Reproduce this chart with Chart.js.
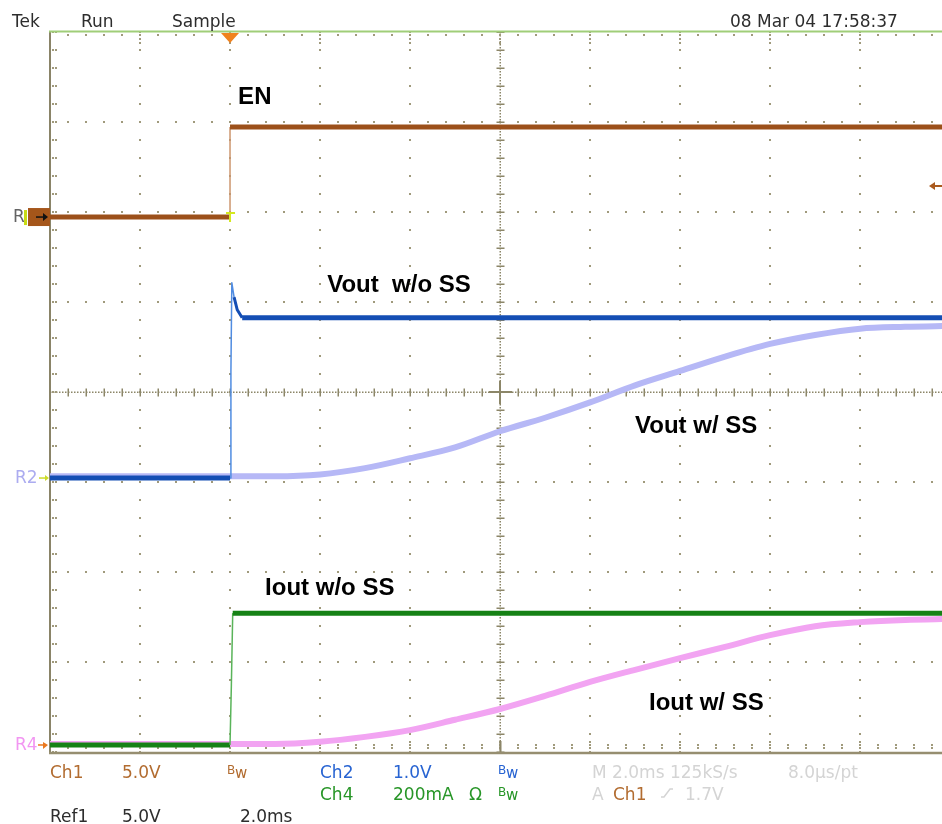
<!DOCTYPE html>
<html>
<head>
<meta charset="utf-8">
<title>Soft-start comparison</title>
<script src="https://cdn.jsdelivr.net/npm/chart.js@4/dist/chart.umd.min.js"></script>
<style>
  html, body { margin: 0; padding: 0; background: #ffffff; }
  canvas { display: block; }
</style>
</head>
<body>
<canvas id="scope" width="942" height="824"></canvas>
<script>
// ---- Captured traces (time in ms, 0 = trigger on EN rising edge) ----
const enTime = [-4, 0, 0, 15.82];
const enVolts = [0, 0, 5, 5];

const voutTime = [-4, 0, 0.02, 0.04, 0.09, 0.16, 0.27, 15.82];
const voutVolts = [0, 0, 1.18, 2.17, 2.01, 1.87, 1.78, 1.78];

const ioutTime = [-4, 0, 0.03, 0.06, 15.82];
const ioutMilliamps = [0, 0, 133, 293, 293];

// Reference waveforms stored with soft-start enabled
const ssTime = [-4, 0, 1, 2, 3, 4, 5, 6, 7, 8, 9, 10, 11, 12, 13, 14, 15, 16];
const voutSsVolts = [0.02, 0.02, 0.02, 0.04, 0.11, 0.22, 0.34, 0.52, 0.67, 0.84, 1.03, 1.19, 1.35, 1.49, 1.59, 1.66, 1.68, 1.69];
const ioutSsMilliamps = [2, 2, 2, 7, 18, 33, 56, 80, 109, 140, 167, 193, 218, 244, 264, 273, 278, 280];

// Graticule: 2 ms/div horizontally, 8 vertical divisions
const timeGridMs = [-4, -2, 0, 2, 4, 6, 8, 10, 12, 14];
const divGrid = [-4, -3, -2, -1, 0, 1, 2, 3, 4];
const timeMinorMs = 0.4;
const divMinor = 0.2;

// Channel scaling (units per division) and ground marker position (divisions)
const channels = {
  ch1: { perDiv: 5, ground: 1.944 },     // EN, 5.0 V/div
  ch2: { perDiv: 1, ground: -0.956 },    // Vout, 1.0 V/div
  ch4: { perDiv: 200, ground: -3.922 }   // Iout, 200 mA/div
};
const triggerLevelVolts = 1.7;

function toPoints(times, values, ch) {
  return times.map((t, i) => ({ x: t, y: ch.ground + values[i] / ch.perDiv }));
}

// Fast edges are drawn as a thin single line, flat parts as a noisy-looking band
function slope(ctx) {
  const dx = Math.abs(ctx.p1.x - ctx.p0.x);
  const dy = Math.abs(ctx.p1.y - ctx.p0.y);
  if (dy > 4 * dx + 2) return 'edge';
  if (dy > dx) return 'ramp';
  return 'flat';
}
function traceSegment(width, color, edgeColor) {
  return {
    borderWidth: ctx => {
      const s = slope(ctx);
      return s === 'edge' ? 1.5 : s === 'ramp' ? 3 : width;
    },
    borderColor: ctx => (slope(ctx) === 'edge' ? edgeColor : color)
  };
}

const colors = {
  ch1: 'rgb(156,80,26)', ch1Edge: 'rgb(205,150,110)', ch1Text: 'rgb(178,108,48)',
  ch2: 'rgb(20,78,180)', ch2Edge: 'rgb(80,140,225)', ch2Text: 'rgb(40,100,210)',
  ch4: 'rgb(22,130,22)', ch4Edge: 'rgb(90,180,90)', ch4Text: 'rgb(40,150,40)',
  ref2: 'rgb(182,184,246)', ref4: 'rgb(242,164,242)',
  grid: 'rgb(160,154,124)', gridStrong: 'rgb(140,134,104)',
  greyText: 'rgb(212,212,212)', darkText: 'rgb(45,45,45)'
};

const datasets = [
  {
    label: 'EN', order: 0,
    data: toPoints(enTime, enVolts, channels.ch1),
    borderColor: colors.ch1, borderWidth: 5,
    segment: traceSegment(5, colors.ch1, colors.ch1Edge)
  },
  {
    label: 'Vout w/o SS', order: 0,
    data: toPoints(voutTime, voutVolts, channels.ch2),
    borderColor: colors.ch2, borderWidth: 5,
    segment: traceSegment(5, colors.ch2, colors.ch2Edge)
  },
  {
    label: 'Iout w/o SS', order: 0,
    data: toPoints(ioutTime, ioutMilliamps, channels.ch4),
    borderColor: colors.ch4, borderWidth: 5,
    segment: traceSegment(5, colors.ch4, colors.ch4Edge)
  },
  {
    label: 'Vout w/ SS', order: 1,
    data: toPoints(ssTime, voutSsVolts, channels.ch2),
    borderColor: colors.ref2, borderWidth: 6,
    cubicInterpolationMode: 'monotone'
  },
  {
    label: 'Iout w/ SS', order: 1,
    data: toPoints(ssTime, ioutSsMilliamps, channels.ch4),
    borderColor: colors.ref4, borderWidth: 6,
    cubicInterpolationMode: 'monotone'
  }
];

// Trace annotations, anchored in time (ms) / division coordinates
const traceLabels = [
  { text: 'EN', t: 0.18, div: 3.2 },
  { text: 'Vout  w/o SS', t: 2.16, div: 1.111 },
  { text: 'Vout w/ SS', t: 9.0, div: -0.456 },
  { text: 'Iout w/o SS', t: 0.78, div: -2.256 },
  { text: 'Iout w/ SS', t: 9.31, div: -3.533 }
];

const FONT = '"DejaVu Sans", "Liberation Sans", sans-serif';

const paper = {
  id: 'paper',
  beforeDraw(chart) {
    const { ctx, width, height } = chart;
    ctx.save();
    ctx.fillStyle = '#ffffff';
    ctx.fillRect(0, 0, width, height);
    ctx.restore();
  }
};

const graticule = {
  id: 'graticule',
  beforeDatasetsDraw(chart) {
    const { ctx, chartArea: a, scales: { x, y } } = chart;
    const X = v => Math.round(x.getPixelForValue(v));
    const Y = v => Math.round(y.getPixelForValue(v));
    const dot = (px, py, s = 2) => ctx.fillRect(px - s / 2, py - s / 2, s, s);
    const tMin = x.min, tMax = x.max;
    const minorTimes = [];
    for (let i = 0; ; i++) { const t = tMin + i * timeMinorMs; if (t > tMax + 1e-6) break; minorTimes.push(t); }
    const minorDivs = [];
    for (let i = 0; ; i++) { const d = y.min + i * divMinor; if (d > y.max + 1e-6) break; minorDivs.push(d); }
    const centreT = 6, centreD = 0;

    ctx.save();
    ctx.fillStyle = colors.grid;
    // dotted major lines
    timeGridMs.forEach(t => {
      if (t === tMin || t === centreT) return;
      minorDivs.forEach(d => dot(X(t), Y(d)));
    });
    divGrid.forEach(d => {
      if (d === y.min || d === y.max || d === centreD) return;
      minorTimes.forEach(t => dot(X(t), Y(d)));
    });

    // centre cross lines with minor ticks
    const cx = X(centreT), cy = Y(centreD);
    ctx.fillStyle = colors.gridStrong;
    for (let px = a.left; px <= a.right; px += 3) ctx.fillRect(px, cy - 0.5, 1.5, 1.5);
    for (let py = a.top; py <= a.bottom; py += 3) ctx.fillRect(cx - 0.5, py, 1.5, 1.5);
    minorTimes.forEach(t => ctx.fillRect(X(t) - 0.5, cy - 3.5, 1.5, 8));
    minorDivs.forEach(d => ctx.fillRect(cx - 3.5, Y(d) - 0.5, 8, 1.5));
    ctx.fillRect(cx - 11, cy - 1, 23, 2);
    ctx.fillRect(cx - 1, cy - 11, 2, 23);

    // border ticks
    ctx.fillStyle = colors.grid;
    minorTimes.forEach(t => {
      const px = X(t);
      const major = timeGridMs.some(g => Math.abs(g - t) < 1e-6);
      dot(px, a.top + 3);
      dot(px, a.bottom - 4); dot(px, a.bottom - 7);
      if (major) { dot(px, a.top + 7); dot(px, a.top + 11); dot(px, a.bottom - 10); }
    });
    minorDivs.forEach(d => { const py = Y(d); dot(a.left + 3, py); dot(a.left + 6, py); });
    ctx.fillStyle = colors.gridStrong;
    ctx.fillRect(cx - 0.5, a.bottom - 11, 2, 11);

    // frame
    ctx.lineCap = 'butt';
    ctx.strokeStyle = 'rgb(138,132,104)';
    ctx.lineWidth = 2;
    ctx.beginPath(); ctx.moveTo(a.left, a.top - 1); ctx.lineTo(a.left, a.bottom + 2); ctx.stroke();
    ctx.strokeStyle = 'rgb(150,142,112)';
    ctx.lineWidth = 2.5;
    ctx.beginPath(); ctx.moveTo(a.left - 1, a.bottom + 1); ctx.lineTo(a.right, a.bottom + 1); ctx.stroke();
    ctx.strokeStyle = 'rgb(160,206,120)';
    ctx.lineWidth = 2;
    ctx.beginPath(); ctx.moveTo(a.left - 1, a.top - 0.5); ctx.lineTo(a.right, a.top - 0.5); ctx.stroke();
    ctx.restore();
  }
};

const scopeAnnotations = {
  id: 'scopeAnnotations',
  afterDatasetsDraw(chart) {
    const { ctx, chartArea: a, scales: { x, y } } = chart;
    const X = v => x.getPixelForValue(v);
    const Y = v => y.getPixelForValue(v);
    ctx.save();

    // trace labels
    ctx.font = 'bold 24px "Liberation Sans", Arial, sans-serif';
    ctx.fillStyle = '#000000';
    ctx.textBaseline = 'alphabetic';
    traceLabels.forEach(l => ctx.fillText(l.text, X(l.t), Y(l.div)));

    // trigger position marker (top) and trigger point
    const tx = X(0);
    ctx.fillStyle = 'rgb(240,130,30)';
    ctx.beginPath();
    ctx.moveTo(tx - 9, a.top + 1); ctx.lineTo(tx + 9, a.top + 1); ctx.lineTo(tx, a.top + 11);
    ctx.closePath(); ctx.fill();
    const g1 = Y(channels.ch1.ground);
    ctx.strokeStyle = 'rgb(212,232,30)';
    ctx.lineWidth = 2;
    ctx.beginPath();
    ctx.moveTo(tx - 4, g1 - 4); ctx.lineTo(tx + 5, g1 - 4);
    ctx.moveTo(tx, g1 - 4); ctx.lineTo(tx, g1 + 5);
    ctx.stroke();

    // trigger level arrow (right edge)
    const ty = Math.round(Y(channels.ch1.ground + triggerLevelVolts / channels.ch1.perDiv));
    ctx.strokeStyle = 'rgb(170,90,30)';
    ctx.fillStyle = 'rgb(170,90,30)';
    ctx.lineWidth = 2;
    ctx.beginPath(); ctx.moveTo(a.right - 10, ty); ctx.lineTo(a.right, ty); ctx.stroke();
    ctx.beginPath(); ctx.moveTo(a.right - 13, ty); ctx.lineTo(a.right - 7, ty - 4); ctx.lineTo(a.right - 7, ty + 4); ctx.closePath(); ctx.fill();

    // ground / reference markers at the left edge
    ctx.font = '17px ' + FONT;
    ctx.textBaseline = 'middle';
    // R1 / Ch1
    ctx.fillStyle = 'rgb(100,100,100)';
    ctx.fillText('R', 13, g1 + 1);
    ctx.fillStyle = 'rgb(200,220,20)';
    ctx.fillRect(24, g1 - 7, 3, 15);
    ctx.fillStyle = 'rgb(165,86,26)';
    ctx.fillRect(28, g1 - 9, 22, 18);
    ctx.strokeStyle = '#111111';
    ctx.fillStyle = '#111111';
    ctx.lineWidth = 1.5;
    ctx.beginPath(); ctx.moveTo(36, g1); ctx.lineTo(46, g1); ctx.stroke();
    ctx.beginPath(); ctx.moveTo(48, g1); ctx.lineTo(43, g1 - 4); ctx.lineTo(43, g1 + 4); ctx.closePath(); ctx.fill();

    // R2
    const g2 = Y(channels.ch2.ground);
    ctx.fillStyle = 'rgb(172,172,240)';
    ctx.fillText('R2', 15, g2 + 1);
    ctx.strokeStyle = 'rgb(205,220,40)';
    ctx.fillStyle = 'rgb(205,220,40)';
    ctx.beginPath(); ctx.moveTo(39, g2); ctx.lineTo(47, g2); ctx.stroke();
    ctx.beginPath(); ctx.moveTo(49, g2); ctx.lineTo(45, g2 - 3); ctx.lineTo(45, g2 + 3); ctx.closePath(); ctx.fill();

    // R4
    const g4 = Y(channels.ch4.ground);
    ctx.fillStyle = 'rgb(242,150,242)';
    ctx.fillText('R4', 15, g4 + 1);
    ctx.strokeStyle = 'rgb(235,120,30)';
    ctx.fillStyle = 'rgb(235,120,30)';
    ctx.beginPath(); ctx.moveTo(38, g4); ctx.lineTo(45, g4); ctx.stroke();
    ctx.beginPath(); ctx.moveTo(48, g4); ctx.lineTo(43, g4 - 3); ctx.lineTo(43, g4 + 4); ctx.closePath(); ctx.fill();

    ctx.restore();
  },
  afterDraw(chart) {
    const { ctx } = chart;
    ctx.save();
    ctx.textBaseline = 'alphabetic';
    const text = (s, x, yb, color, size = 17) => {
      ctx.font = size + 'px ' + FONT;
      ctx.fillStyle = color;
      ctx.fillText(s, x, yb);
    };
    const bw = (x, yb, color) => {
      text('B', x, yb - 4, color, 12);
      text('w', x + 8, yb, color, 15);
    };

    // header
    text('Tek', 12, 27, colors.darkText);
    text('Run', 81, 27, colors.darkText);
    text('Sample', 172, 27, colors.darkText);
    text('08 Mar 04 17:58:37', 730, 27, colors.darkText);

    // status line 1
    text('Ch1', 50, 778, colors.ch1Text);
    text('5.0V', 122, 778, colors.ch1Text);
    bw(227, 778, colors.ch1Text);
    text('Ch2', 320, 778, colors.ch2Text);
    text('1.0V', 393, 778, colors.ch2Text);
    bw(498, 778, colors.ch2Text);
    text('M 2.0ms 125kS/s', 592, 778, colors.greyText);
    text('8.0\u00b5s/pt', 788, 778, colors.greyText);

    // status line 2
    text('Ch4', 320, 800, colors.ch4Text);
    text('200mA', 393, 800, colors.ch4Text);
    text('\u03a9', 469, 800, colors.ch4Text);
    bw(498, 800, colors.ch4Text);
    text('A', 592, 800, colors.greyText);
    text('Ch1', 613, 800, colors.ch1Text);
    ctx.strokeStyle = colors.greyText;
    ctx.lineWidth = 1.5;
    ctx.beginPath();
    ctx.moveTo(661, 797); ctx.lineTo(664, 797); ctx.lineTo(670, 789); ctx.lineTo(673, 789);
    ctx.stroke();
    text('1.7V', 685, 800, colors.greyText);

    // status line 3
    text('Ref1', 50, 822, colors.darkText);
    text('5.0V', 122, 822, colors.darkText);
    text('2.0ms', 240, 822, colors.darkText);
    ctx.restore();
  }
};

new Chart(document.getElementById('scope'), {
  type: 'line',
  data: { datasets },
  options: {
    responsive: false,
    animation: false,
    events: [],
    layout: { padding: { left: 50, top: 32, right: 0, bottom: 72 } },
    scales: {
      x: { type: 'linear', min: -4, max: 15.82, display: false },
      y: { type: 'linear', min: -4, max: 4, display: false }
    },
    elements: {
      point: { radius: 0 },
      line: { borderCapStyle: 'butt', borderJoinStyle: 'round', fill: false }
    },
    plugins: {
      legend: { display: false },
      tooltip: { enabled: false },
      title: { display: false }
    }
  },
  plugins: [paper, graticule, scopeAnnotations]
});
</script>
</body>
</html>
